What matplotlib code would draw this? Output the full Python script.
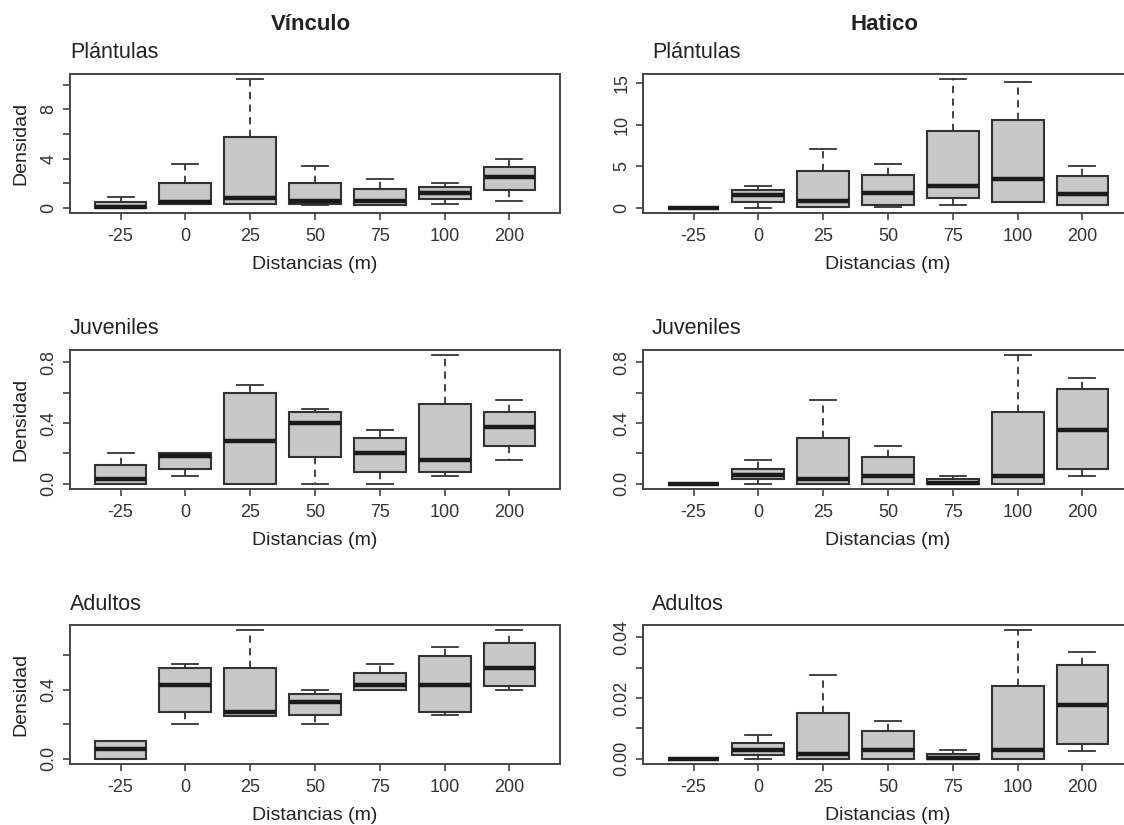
import matplotlib.pyplot as plt
from matplotlib.ticker import MultipleLocator, FuncFormatter

plt.rcParams['font.family'] = ['Liberation Sans', 'DejaVu Sans']

# ── Data ──────────────────────────────────────────────────────
distancias = ["-25", "0", "25", "50", "75", "100", "200"]
sitios = ["Vínculo", "Hatico"]
estadios = ["Plántulas", "Juveniles", "Adultos"]

# Vínculo - Plántulas
vin_pla_lo  = [0.0, 0.33, 0.33, 0.25, 0.27, 0.35, 0.57]
vin_pla_q1  = [0.0, 0.33, 0.33, 0.33, 0.27, 0.68, 1.44]
vin_pla_med = [0.04, 0.46, 0.84, 0.52, 0.54, 1.17, 2.52]
vin_pla_q3  = [0.5, 2.03, 5.77, 2.03, 1.57, 1.73, 3.31]
vin_pla_hi  = [0.9, 3.58, 10.45, 3.36, 2.33, 2.03, 3.96]

# Hatico - Plántulas
hat_pla_lo  = [0.0, 0.0, 0.16, 0.16, 0.32, 0.68, 0.4]
hat_pla_q1  = [0.0, 0.68, 0.16, 0.4, 1.13, 0.68, 0.4]
hat_pla_med = [0.0, 1.57, 0.88, 1.77, 2.61, 3.5, 1.61]
hat_pla_q3  = [0.0, 2.17, 4.42, 3.98, 9.29, 10.53, 3.82]
hat_pla_hi  = [0.0, 2.57, 7.12, 5.31, 15.48, 15.08, 4.99]

# Vínculo - Juveniles
vin_juv_lo  = [0.0, 0.055, 0.0, 0.0, 0.0, 0.055, 0.156]
vin_juv_q1  = [0.0, 0.1, 0.0, 0.18, 0.077, 0.077, 0.248]
vin_juv_med = [0.033, 0.185, 0.28, 0.404, 0.2, 0.156, 0.374]
vin_juv_q3  = [0.125, 0.2, 0.6, 0.475, 0.303, 0.527, 0.473]
vin_juv_hi  = [0.2, 0.2, 0.653, 0.495, 0.352, 0.848, 0.552]

# Hatico - Juveniles
hat_juv_lo  = [0.0, 0.0, 0.0, 0.0, 0.0, 0.0, 0.055]
hat_juv_q1  = [0.0, 0.029, 0.0, 0.0, 0.0, 0.0, 0.1]
hat_juv_med = [0.0, 0.059, 0.033, 0.055, 0.007, 0.055, 0.352]
hat_juv_q3  = [0.0, 0.1, 0.303, 0.178, 0.033, 0.475, 0.622]
hat_juv_hi  = [0.0, 0.156, 0.552, 0.248, 0.055, 0.848, 0.699]

# Vínculo - Adultos
vin_adu_lo  = [0.0, 0.2, 0.251, 0.2, 0.398, 0.253, 0.4]
vin_adu_q1  = [0.0, 0.274, 0.251, 0.253, 0.398, 0.274, 0.425]
vin_adu_med = [0.058, 0.427, 0.27, 0.332, 0.427, 0.427, 0.528]
vin_adu_q3  = [0.104, 0.528, 0.528, 0.377, 0.5, 0.597, 0.672]
vin_adu_hi  = [0.104, 0.549, 0.746, 0.4, 0.549, 0.651, 0.746]

# Hatico - Adultos
hat_adu_lo  = [0.0, 0.0, 0.0, 0.0, 0.0, 0.0, 0.0027]
hat_adu_q1  = [0.0, 0.0014, 0.0, 0.0, 0.0, 0.0, 0.005]
hat_adu_med = [0.0, 0.003, 0.00175, 0.003, 0.0004, 0.003, 0.0176]
hat_adu_q3  = [0.0, 0.00526, 0.0152, 0.009, 0.00175, 0.0238, 0.031]
hat_adu_hi  = [0.0, 0.008, 0.0276, 0.0125, 0.003, 0.0423, 0.035]

panels = [
    [(vin_pla_lo, vin_pla_q1, vin_pla_med, vin_pla_q3, vin_pla_hi),
     (hat_pla_lo, hat_pla_q1, hat_pla_med, hat_pla_q3, hat_pla_hi)],
    [(vin_juv_lo, vin_juv_q1, vin_juv_med, vin_juv_q3, vin_juv_hi),
     (hat_juv_lo, hat_juv_q1, hat_juv_med, hat_juv_q3, hat_juv_hi)],
    [(vin_adu_lo, vin_adu_q1, vin_adu_med, vin_adu_q3, vin_adu_hi),
     (hat_adu_lo, hat_adu_q1, hat_adu_med, hat_adu_q3, hat_adu_hi)],
]

# y tick step, label every n-th tick, label format
tick_cfg = [
    [(2, 2, "{:.0f}"), (5, 1, "{:.0f}")],
    [(0.2, 2, "{:.1f}"), (0.2, 2, "{:.1f}")],
    [(0.2, 2, "{:.1f}"), (0.01, 2, "{:.2f}")],
]

# ── Layout (pixels) ───────────────────────────────────────────
W, H = 1124, 825
col_x = [70, 643]
ax_w = 490
row_top = [74, 350, 625]
ax_h = 139

edge = "#333333"
fig = plt.figure(figsize=(W / 100, H / 100), dpi=100)


def make_fmt(step, every, fmt):
    def f(v, pos):
        k = round(v / step)
        if k % every != 0:
            return ""
        return fmt.format(k * step)
    return f


for r in range(3):
    for c in range(2):
        lo, q1, med, q3, hi = panels[r][c]
        ax = fig.add_axes([col_x[c] / W, 1 - (row_top[r] + ax_h) / H,
                           ax_w / W, ax_h / H])
        stats = [dict(whislo=lo[i], q1=q1[i], med=med[i], q3=q3[i], whishi=hi[i])
                 for i in range(len(distancias))]
        ax.bxp(stats, positions=range(1, len(distancias) + 1), widths=0.8,
               capwidths=0.4, showfliers=False, patch_artist=True,
               boxprops=dict(facecolor="#c8c8c8", edgecolor=edge, linewidth=1.5),
               medianprops=dict(color="#1a1a1a", linewidth=3.2,
                                solid_capstyle="butt"),
               whiskerprops=dict(color=edge, linewidth=1.3,
                                 linestyle=(0, (4, 3))),
               capprops=dict(color=edge, linewidth=1.3))

        # R style ranges: 4 % padding around the data
        ymin, ymax = min(lo), max(hi)
        pad = 0.04 * (ymax - ymin)
        ax.set_ylim(ymin - pad, ymax + pad)
        ax.set_xlim(0.22, len(distancias) + 0.78)
        ax.set_xticks(range(1, len(distancias) + 1))
        ax.set_xticklabels(distancias)

        step, every, fmt = tick_cfg[r][c]
        ax.yaxis.set_major_locator(MultipleLocator(step))
        ax.yaxis.set_major_formatter(FuncFormatter(make_fmt(step, every, fmt)))

        for s in ax.spines.values():
            s.set_color("#444444")
            s.set_linewidth(1.4)
        ax.tick_params(direction="out", length=5, width=1.2, color="#444444",
                       labelsize=13, labelcolor="#333333", pad=4)
        ax.tick_params(axis="x", pad=6)
        ax.tick_params(axis="y", labelrotation=90)
        for lab in ax.get_yticklabels():
            lab.set_va("center")

        ax.set_xlabel("Distancias (m)", fontsize=14, color="#222222", labelpad=8)
        if c == 0:
            ax.set_ylabel("Densidad", fontsize=14, color="#222222", labelpad=8)

        fig.text((col_x[c] + (0 if c == 0 else 9)) / W, 1 - (row_top[r] - 21) / H,
                 estadios[r], fontsize=15.5, color="#222222",
                 ha="left", va="center")

for c in range(2):
    fig.text((col_x[c] + ax_w / 2 - 4) / W, 1 - 25 / H, sitios[c],
             fontsize=16, fontweight="bold", color="#222222",
             ha="center", va="center")

fig.savefig("out.png", dpi=100)
